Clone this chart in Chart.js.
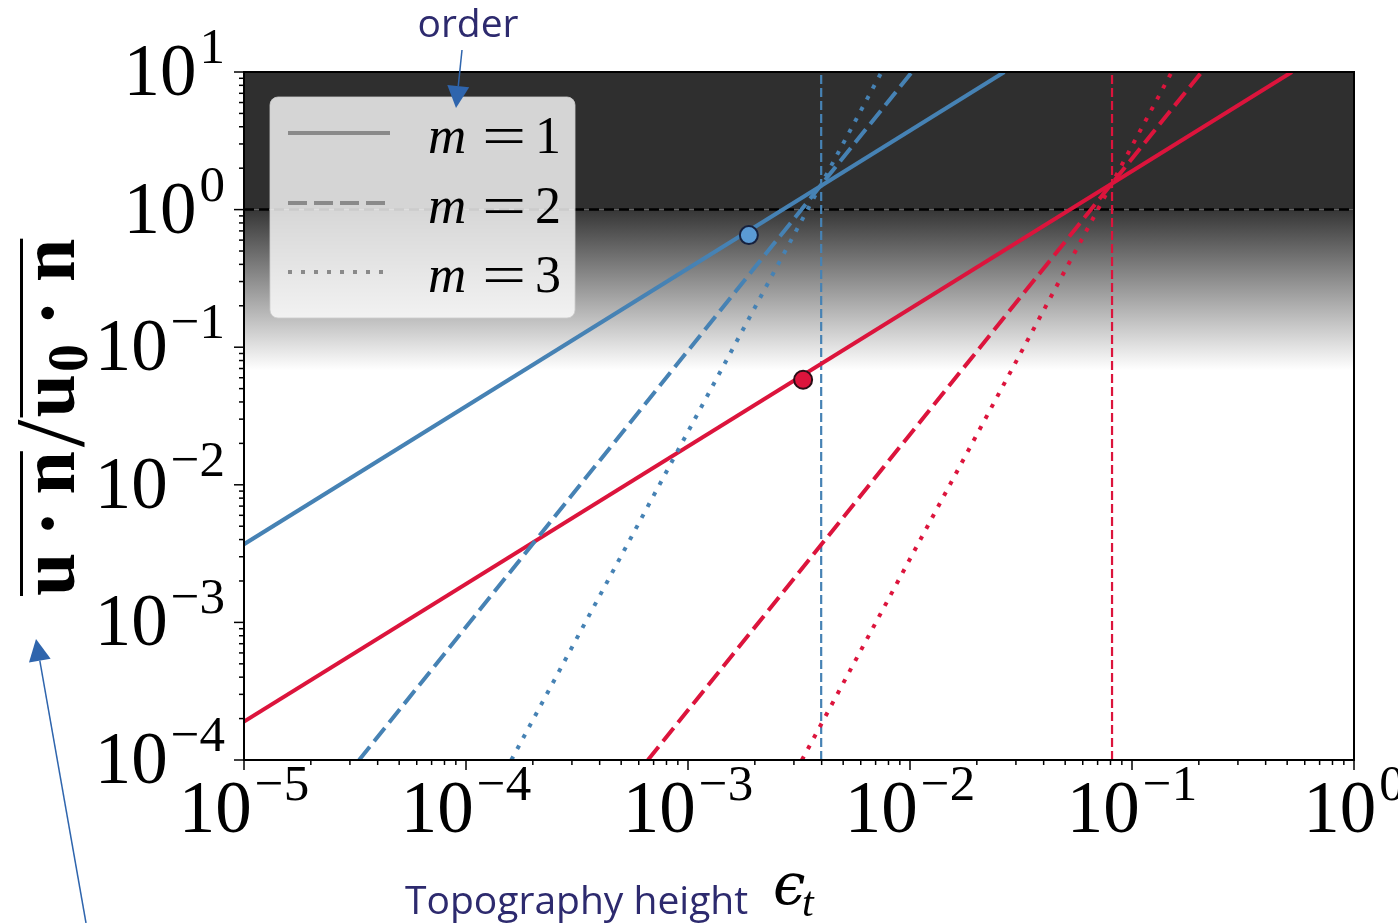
<!DOCTYPE html>
<html>
<head>
<meta charset="utf-8">
<script src="https://cdn.jsdelivr.net/npm/chart.js@4.4.0/dist/chart.umd.min.js"></script>
<style>
  html, body { margin: 0; padding: 0; background: #ffffff; }
  #wrap { width: 1398px; height: 923px; position: relative; }
</style>
</head>
<body>
<div id="wrap"><canvas id="chart" width="1398" height="923"></canvas></div>
<script>
// axes (log-log)
const xTicks = [1e-5, 1e-4, 1e-3, 1e-2, 1e-1, 1];
const xTickExps = ['\u22125', '\u22124', '\u22123', '\u22122', '\u22121', '0'];
const yTicks = [1e-4, 1e-3, 1e-2, 1e-1, 1, 10];
const yTickExps = ['\u22124', '\u22123', '\u22122', '\u22121', '0', '1'];

// each curve is straight on log-log axes: end points
const blueM1 = [[1e-5, 3.7e-3], [2.66e-2, 10]];
const blueM2 = [[3.3e-5, 1e-4], [1.02e-2, 10]];
const blueM3 = [[1.6e-4, 1e-4], [7.45e-3, 10]];
const redM1 = [[1e-5, 1.9e-4], [0.525, 10]];
const redM2 = [[6.6e-4, 1e-4], [0.206, 10]];
const redM3 = [[3.26e-3, 1e-4], [0.151, 10]];

// critical heights (vertical dashed lines) and marked points
const blueCritical = 3.98e-3;
const redCritical = 8.13e-2;
const unitLevel = 1;
const bluePoint = [1.88e-3, 0.653];
const redPoint = [3.3e-3, 0.058];

// shading: dark above 1, fading to white at this value
const shadeFadeTo = 0.068;

const legendOrders = ['1', '2', '3'];

const BLUE = '#4682b4';
const RED = '#dc143c';
const NAVY = '#2d2a6e';
const ARROW = '#2f65ad';

const pts = arr => arr.map(([x, y]) => ({ x, y }));
const dashes = { solid: [], dashed: [17, 7], dotted: [4, 8.5] };

function curve(data, color, style, order) {
    return {
        data: pts(data), showLine: true, borderColor: color, borderWidth: 4,
        borderDash: dashes[style], pointRadius: 0, order: order,
        borderCapStyle: 'butt'
    };
}

const shadePlugin = {
    id: 'shade',
    beforeDatasetsDraw(chart) {
        const { ctx, chartArea: a, scales: { y } } = chart;
        const y1 = y.getPixelForValue(unitLevel);
        const yw = y.getPixelForValue(shadeFadeTo);
        ctx.save();
        ctx.fillStyle = '#2f2f2f';
        ctx.fillRect(a.left, a.top, a.right - a.left, y1 - a.top);
        const g = ctx.createLinearGradient(0, y1, 0, yw);
        g.addColorStop(0, '#363636');
        g.addColorStop(1, '#ffffff');
        ctx.fillStyle = g;
        ctx.fillRect(a.left, y1, a.right - a.left, yw - y1);
        ctx.restore();
    }
};

function drawPow(ctx, exp, x, baseY, align) {
    ctx.font = '73px "Liberation Serif"';
    const wb = ctx.measureText('10').width;
    ctx.font = '51px "Liberation Serif"';
    const we = ctx.measureText(exp).width;
    const total = wb + we + 3;
    let left = align === 'center' ? x - total / 2 : x - total;
    ctx.textAlign = 'left';
    ctx.textBaseline = 'alphabetic';
    ctx.font = '73px "Liberation Serif"';
    ctx.fillText('10', left, baseY);
    ctx.font = '51px "Liberation Serif"';
    ctx.fillText(exp, left + wb + 3, baseY - 32);
}

const legendPlugin = {
    id: 'mathLegend',
    afterDatasetsDraw(chart) {
        const { ctx } = chart;
        ctx.save();
        ctx.beginPath();
        ctx.roundRect(270, 97, 305, 221, 8);
        ctx.fillStyle = 'rgba(255,255,255,0.8)';
        ctx.fill();
        ctx.strokeStyle = 'rgba(204,204,204,0.8)';
        ctx.lineWidth = 1;
        ctx.stroke();
        const rows = [133, 203, 272];
        legendOrders.forEach((m, i) => {
            const y = rows[i];
            ctx.beginPath();
            ctx.strokeStyle = '#8a8a8a';
            ctx.lineWidth = 4;
            ctx.setLineDash(i === 1 ? [19, 7] : i === 2 ? [4, 9] : []);
            ctx.moveTo(288, y);
            ctx.lineTo(390, y);
            ctx.stroke();
            ctx.setLineDash([]);
            ctx.fillStyle = '#000';
            ctx.textBaseline = 'alphabetic';
            ctx.textAlign = 'left';
            ctx.font = 'italic 53px "Liberation Serif"';
            ctx.fillText('m', 428, y + 20);
            ctx.save();
            ctx.translate(504, y + 22);
            ctx.scale(1.4, 1);
            ctx.font = '56px "Liberation Serif"';
            ctx.textAlign = 'center';
            ctx.fillText('=', 0, 0);
            ctx.restore();
            ctx.textAlign = 'center';
            ctx.font = '52px "Liberation Serif"';
            ctx.fillText(m, 548, y + 20);
        });
        ctx.restore();
    }
};

const axesPlugin = {
    id: 'mplAxes',
    afterDraw(chart) {
        const { ctx, chartArea: a, scales: { x, y } } = chart;
        ctx.save();
        ctx.strokeStyle = '#000';
        ctx.lineWidth = 2;
        ctx.strokeRect(a.left, a.top, a.right - a.left, a.bottom - a.top);
        ctx.lineWidth = 1.5;
        // ticks, major and minor, pointing out
        const tick = (px, len, horiz) => {
            ctx.beginPath();
            if (horiz) { ctx.moveTo(px, a.bottom); ctx.lineTo(px, a.bottom + len); }
            else { ctx.moveTo(a.left, px); ctx.lineTo(a.left - len, px); }
            ctx.stroke();
        };
        xTicks.forEach((v, i) => {
            tick(x.getPixelForValue(v), 10, true);
            if (i < xTicks.length - 1) for (let k = 2; k < 10; k++) tick(x.getPixelForValue(v * k), 5, true);
        });
        yTicks.forEach((v, i) => {
            tick(y.getPixelForValue(v), 10, false);
            if (i < yTicks.length - 1) for (let k = 2; k < 10; k++) tick(y.getPixelForValue(v * k), 5, false);
        });
        ctx.fillStyle = '#000';
        xTicks.forEach((v, i) => drawPow(ctx, xTickExps[i], x.getPixelForValue(v), a.bottom + 72, 'center'));
        yTicks.forEach((v, i) => drawPow(ctx, yTickExps[i], 225, y.getPixelForValue(v) + 23, 'right'));

        drawYLabel(ctx);
        drawNotes(ctx);
        ctx.restore();
    }
};

function drawYLabel(ctx) {
    ctx.save();
    ctx.translate(74, 596);
    ctx.rotate(-Math.PI / 2);
    ctx.fillStyle = '#000';
    ctx.textAlign = 'left';
    ctx.textBaseline = 'alphabetic';
    const big = 'bold 78px "Liberation Serif"';
    let p = 0;
    const put = (s, font, dy, gap) => {
        ctx.font = font;
        ctx.fillText(s, p, dy);
        p += ctx.measureText(s).width + gap;
    };
    put('u', big, 0, 16);
    put('\u00b7', big, 0, 16);
    put('n', big, 0, 0);
    const end1 = p;
    p += 4;
    put('/', '100px "Liberation Serif"', 9, 2);
    const start2 = p;
    put('u', big, 0, 2);
    put('0', 'bold 56px "Liberation Serif"', 13, 18);
    put('\u00b7', big, 0, 18);
    put('n', big, 0, 0);
    const end2 = p;
    ctx.fillRect(0, -54, end1, 3);
    ctx.fillRect(start2, -54, end2 - start2, 3);
    ctx.restore();
}

function arrow(ctx, x0, y0, x1, y1) {
    const ang = Math.atan2(y1 - y0, x1 - x0);
    const hl = 22, hw = 11;
    ctx.strokeStyle = ARROW;
    ctx.fillStyle = ARROW;
    ctx.lineWidth = 1.5;
    ctx.beginPath();
    ctx.moveTo(x0, y0);
    ctx.lineTo(x1 - hl * Math.cos(ang), y1 - hl * Math.sin(ang));
    ctx.stroke();
    ctx.beginPath();
    ctx.moveTo(x1, y1);
    ctx.lineTo(x1 - hl * Math.cos(ang) - hw * Math.sin(ang), y1 - hl * Math.sin(ang) + hw * Math.cos(ang));
    ctx.lineTo(x1 - hl * Math.cos(ang) + hw * Math.sin(ang), y1 - hl * Math.sin(ang) - hw * Math.cos(ang));
    ctx.closePath();
    ctx.fill();
}

function drawNotes(ctx) {
    ctx.fillStyle = NAVY;
    ctx.textBaseline = 'alphabetic';
    ctx.textAlign = 'center';
    ctx.font = '39px "Open Sans"';
    ctx.fillText('order', 468, 37);
    ctx.textAlign = 'left';
    ctx.fillText('Topography height', 405, 914);
    ctx.fillStyle = '#000';
    ctx.font = 'italic 58px "DejaVu Serif"';
    ctx.fillText('\u03f5', 773, 904);
    ctx.font = 'italic 42px "Liberation Serif"';
    ctx.fillText('t', 802, 916);
    arrow(ctx, 462, 50, 456, 108);
    arrow(ctx, 86, 923, 36, 639);
}

new Chart(document.getElementById('chart'), {
    type: 'scatter',
    data: {
        datasets: [
            { data: pts([bluePoint]), pointRadius: 9, pointBackgroundColor: '#5b9bd5', pointBorderColor: '#16213e', pointBorderWidth: 2, order: 0 },
            { data: pts([redPoint]), pointRadius: 9, pointBackgroundColor: RED, pointBorderColor: '#2a0d16', pointBorderWidth: 2, order: 0 },
            curve(blueM1, BLUE, 'solid', 1),
            curve(blueM2, BLUE, 'dashed', 1),
            curve(blueM3, BLUE, 'dotted', 1),
            curve(redM1, RED, 'solid', 1),
            curve(redM2, RED, 'dashed', 1),
            curve(redM3, RED, 'dotted', 1),
            { data: pts([[blueCritical, 1e-4], [blueCritical, 10]]), showLine: true, borderColor: BLUE, borderWidth: 2.2, borderDash: [9, 4], pointRadius: 0, order: 2 },
            { data: pts([[redCritical, 1e-4], [redCritical, 10]]), showLine: true, borderColor: RED, borderWidth: 2.2, borderDash: [9, 4], pointRadius: 0, order: 2 },
            { data: pts([[1e-5, unitLevel], [1, unitLevel]]), showLine: true, borderColor: '#000', borderWidth: 2.5, borderDash: [10, 5], pointRadius: 0, order: 3 }
        ]
    },
    options: {
        responsive: false,
        animation: false,
        layout: { padding: { top: 72, right: 44, left: 0, bottom: 0 } },
        plugins: { legend: { display: false }, tooltip: { enabled: false } },
        scales: {
            x: {
                type: 'logarithmic', min: 1e-5, max: 1,
                ticks: { display: false }, grid: { display: false }, border: { display: false },
                afterFit(s) { s.height = 163; }
            },
            y: {
                type: 'logarithmic', min: 1e-4, max: 10,
                ticks: { display: false }, grid: { display: false }, border: { display: false },
                afterFit(s) { s.width = 244; }
            }
        }
    },
    plugins: [shadePlugin, legendPlugin, axesPlugin]
});
</script>
</body>
</html>
